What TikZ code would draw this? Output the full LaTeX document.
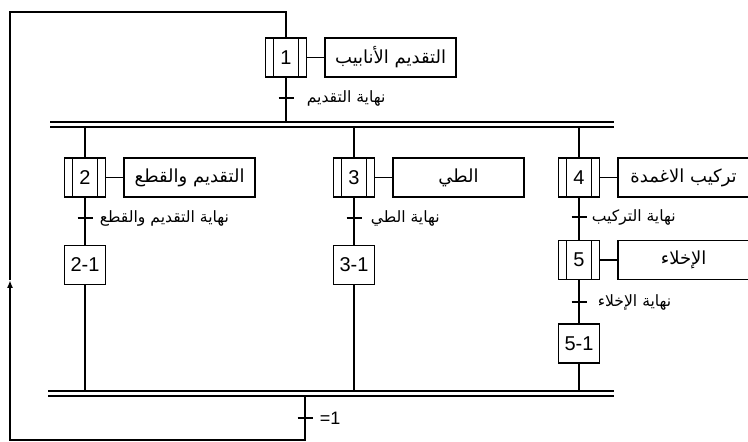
\documentclass[tikz,border=0pt]{standalone}
\usepackage{fontspec}
\setmainfont{Liberation Sans}
\newfontfamily\arabicfont[Script=Arabic]{DejaVu Sans}
\TeXXeTstate=1
\newcommand\artxt[1]{{\arabicfont\beginR #1\endR}}
\usetikzlibrary{positioning,arrows.meta}

\begin{document}
\begin{tikzpicture}[x=0.5pt,y=-0.5pt,line width=0.8pt,
  plainstep/.style={draw, minimum width=20.5pt, minimum height=19.5pt, inner sep=0pt, font=\fontsize{10}{12}\selectfont},
  macrostep/.style={plainstep, path picture={\draw ([xshift=4pt]path picture bounding box.north west) -- ([xshift=4pt]path picture bounding box.south west) ([xshift=-4pt]path picture bounding box.north east) -- ([xshift=-4pt]path picture bounding box.south east);}},
  actbox/.style={draw, minimum width=65.5pt, minimum height=19.5pt, inner sep=0pt, font=\fontsize{9}{11}\selectfont},
  trlabel/.style={inner sep=1pt, anchor=west, font=\fontsize{7.8}{9}\selectfont},
  bar/.style={double, double distance=1.7pt}]
\useasboundingbox (0,0) rectangle (748,442);
% steps and actions
\node[macrostep] (s1) at (286,57.5) {1};
\node[actbox, right=8.5pt of s1] (a1) {\artxt{التقديم الأنابيب}};
\node[macrostep] (s2) at (85,177.5) {2};
\node[actbox, right=8.5pt of s2] (a2) {\artxt{التقديم والقطع}};
\node[macrostep] (s3) at (354,177.5) {3};
\node[actbox, right=8.5pt of s3] (a3) {\artxt{الطي}};
\node[macrostep] (s4) at (579,177.5) {4};
\node[actbox, right=8.5pt of s4] (a4) {\artxt{تركيب الاغمدة}};
\node[macrostep] (s5) at (579,260) {5};
\node[actbox, right=8.5pt of s5] (a5) {\artxt{الإخلاء}};
\node[plainstep] (s21) at (85,265) {2-1};
\node[plainstep] (s31) at (354,265) {3-1};
\node[plainstep] (s51) at (579,343.5) {5-1};
\foreach \s in {1,...,5} \draw (s\s) -- (a\s);
% transitions
\coordinate (t1) at (286,98);
\coordinate (t2) at (85,218);
\coordinate (t3) at (354,218);
\coordinate (t4) at (579,217);
\coordinate (t5) at (579,302);
\coordinate (t6) at (305,418);
\foreach \t in {1,...,6} \draw ([xshift=-3.75pt]t\t) -- ([xshift=3.75pt]t\t);
\node[trlabel, right=9pt of t1] {\artxt{نهاية التقديم}};
\node[trlabel, right=6pt of t2] {\artxt{نهاية التقديم والقطع}};
\node[trlabel, right=7pt of t3] {\artxt{نهاية الطي}};
\node[trlabel, right=5pt of t4] {\artxt{نهاية التركيب}};
\node[trlabel, right=8pt of t5] {\artxt{نهاية الإخلاء}};
\node[trlabel, right=6pt of t6, font=\fontsize{9}{10}\selectfont] {\beginL=1\endL};
% parallel bars
\coordinate (ptop) at (0,124.5);
\coordinate (pbot) at (0,393.5);
\draw[bar] (50,124.5) -- (614,124.5);
\draw[bar] (48,393.5) -- (614,393.5);
% links
\draw (s1) -- ([yshift=1.25pt]s1 |- ptop);
\draw ([yshift=-1.25pt]s2 |- ptop) -- (s2) -- (s21) -- ([yshift=1.25pt]s21 |- pbot);
\draw ([yshift=-1.25pt]s3 |- ptop) -- (s3) -- (s31) -- ([yshift=1.25pt]s31 |- pbot);
\draw ([yshift=-1.25pt]s4 |- ptop) -- (s4) -- (s5) -- (s51) -- ([yshift=1.25pt]s51 |- pbot);
% loop back
\coordinate (r1) at (305,440);
\coordinate (r2) at (10,440);
\coordinate (r3) at (10,280);
\coordinate (r4) at (10,12);
\coordinate (r5) at (286,12);
\draw[-{Latex[length=4pt,width=3pt]}] ([yshift=-1.25pt]t6 |- pbot) -- (r1) -- (r2) -- (r3);
\draw (r3) -- (r4) -- (r5) -- (s1);
\end{tikzpicture}
\end{document}
